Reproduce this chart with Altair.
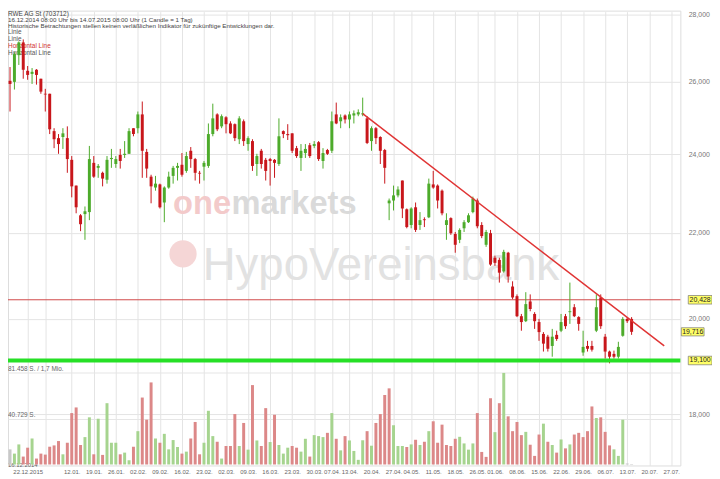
import altair as alt
import pandas as pd

# ---------------- data ----------------
opens = [26.03, 26.00, 26.78, 27.16, 26.32, 26.23, 26.35, 26.09, 25.66, 25.66,
         24.62, 24.43, 24.46, 24.43, 23.85, 23.18, 22.43, 22.46, 22.51, 23.77,
         23.64, 23.51, 23.33, 23.87, 23.74, 23.98, 23.98, 24.01, 24.70, 24.70,
         25.08, 24.06, 23.41, 23.13, 23.21, 22.75, 23.13, 23.43, 23.64, 23.72,
         23.56, 24.09, 23.87, 23.51, 23.67, 23.69, 24.54, 25.08, 24.75, 25.00,
         24.83, 24.81, 24.40, 24.89, 24.27, 24.35, 23.74, 24.09, 23.85, 23.87,
         23.85, 23.74, 24.62, 24.54, 24.56, 24.16, 23.90, 24.03, 24.24, 24.22,
         24.32, 23.82, 24.11, 24.09, 25.08, 24.89, 25.05, 24.94, 25.05, 25.08,
         25.08, 24.97, 24.35, 24.70, 24.46, 24.11, 22.73, 22.80, 22.93, 23.31,
         22.58, 22.19, 22.63, 22.19, 22.33, 22.38, 23.21, 23.18, 23.05, 22.19,
         22.36, 21.97, 21.83, 22.11, 22.26, 22.51, 22.80, 22.19, 21.71, 21.99,
         21.40, 21.35, 21.08, 21.52, 20.73, 20.51, 20.06, 19.95, 20.39, 20.11,
         19.93, 19.67, 19.61, 19.41, 19.65, 19.74, 20.06, 20.15, 20.26, 20.04,
         19.27, 19.41, 19.41, 19.74, 20.48, 19.61, 19.29, 19.24, 19.18, 19.63,
         20.00, 20.00]
highs = [26.43, 26.87, 27.19, 27.25, 26.46, 26.40, 26.37, 26.09, 25.80, 25.66,
         24.70, 24.54, 24.70, 24.75, 23.95, 23.18, 22.46, 22.65, 24.22, 23.95,
         23.74, 23.54, 23.95, 24.14, 23.95, 24.14, 24.35, 24.70, 24.70, 25.16,
         25.44, 24.14, 23.46, 23.43, 23.23, 23.16, 23.54, 23.69, 23.77, 24.03,
         24.06, 24.19, 23.90, 23.56, 23.82, 24.83, 25.38, 25.11, 25.08, 25.03,
         24.89, 24.83, 25.03, 24.94, 24.48, 24.40, 24.01, 24.14, 23.90, 23.90,
         23.87, 24.97, 24.64, 24.81, 24.56, 24.22, 24.27, 24.27, 24.30, 24.35,
         24.35, 24.16, 24.14, 25.16, 25.41, 25.08, 25.08, 25.16, 25.19, 25.22,
         25.55, 25.03, 24.75, 24.73, 24.48, 24.14, 22.85, 23.18, 23.16, 23.31,
         22.60, 22.63, 22.75, 22.51, 22.38, 23.36, 23.56, 23.21, 23.08, 22.48,
         22.38, 22.02, 22.11, 22.31, 22.48, 22.90, 22.85, 22.26, 22.07, 22.07,
         21.45, 21.40, 21.59, 21.54, 20.85, 20.55, 20.11, 20.60, 20.55, 20.15,
         20.00, 19.71, 19.65, 19.78, 19.74, 20.11, 20.11, 20.82, 20.33, 20.06,
         19.74, 19.52, 19.52, 20.55, 20.55, 19.67, 19.31, 19.31, 19.50, 20.04,
         20.04, 20.04]
lows = [25.16, 25.78, 26.49, 26.09, 26.06, 25.94, 25.92, 25.66, 25.16, 24.54,
        24.16, 24.01, 24.14, 23.51, 22.88, 22.48, 22.04, 21.83, 22.31, 23.38,
        23.38, 23.16, 23.23, 23.64, 23.64, 23.62, 23.90, 24.01, 24.48, 24.56,
        23.38, 23.38, 22.73, 23.05, 22.60, 22.26, 23.10, 23.23, 23.31, 23.41,
        23.51, 23.64, 23.31, 23.23, 23.31, 23.64, 24.48, 24.62, 24.70, 24.56,
        24.54, 24.35, 24.27, 24.22, 24.09, 23.56, 23.43, 23.62, 23.31, 23.18,
        23.38, 23.69, 24.43, 24.38, 24.03, 23.90, 23.56, 23.90, 23.90, 24.16,
        23.82, 23.62, 23.98, 24.03, 24.81, 24.70, 24.83, 24.70, 24.83, 25.03,
        25.03, 24.27, 24.09, 24.27, 23.74, 23.23, 22.31, 22.55, 22.88, 22.36,
        22.11, 22.11, 22.02, 22.07, 22.14, 22.36, 23.10, 22.60, 22.43, 21.83,
        21.95, 21.52, 21.75, 22.02, 22.24, 22.48, 22.11, 21.87, 21.66, 21.21,
        21.21, 20.82, 21.05, 20.82, 20.44, 20.04, 19.74, 19.93, 20.17, 19.78,
        19.52, 19.29, 19.29, 19.18, 19.52, 19.71, 19.78, 19.89, 20.04, 19.74,
        19.20, 19.29, 19.29, 19.71, 19.78, 19.14, 19.04, 19.14, 19.14, 19.61,
        19.91, 19.65]
closes = [25.94, 26.81, 27.16, 26.35, 26.20, 26.29, 26.20, 25.72, 25.64, 24.67,
          24.40, 24.27, 24.56, 23.87, 23.16, 22.63, 22.21, 22.53, 23.87, 23.41,
          23.69, 23.36, 23.85, 23.90, 23.87, 23.82, 24.01, 24.62, 24.54, 25.08,
          24.09, 23.62, 23.16, 23.23, 22.63, 23.13, 23.41, 23.64, 23.69, 23.46,
          23.95, 23.87, 23.51, 23.49, 23.77, 24.54, 24.97, 24.67, 25.03, 24.81,
          24.56, 24.43, 24.97, 24.35, 24.43, 23.69, 23.95, 23.74, 23.56, 23.82,
          23.77, 24.48, 24.54, 24.51, 24.09, 23.95, 24.09, 24.14, 23.95, 24.27,
          23.87, 24.03, 24.01, 24.89, 24.83, 25.00, 24.94, 25.08, 25.11, 25.14,
          25.11, 24.30, 24.70, 24.43, 24.09, 23.64, 22.80, 22.93, 23.08, 22.60,
          22.14, 22.60, 22.07, 22.31, 22.31, 23.23, 23.13, 22.80, 22.48, 22.31,
          21.99, 21.71, 22.07, 22.26, 22.43, 22.85, 22.16, 21.92, 22.02, 21.24,
          21.28, 21.05, 21.54, 20.96, 20.48, 20.06, 19.93, 20.33, 20.22, 19.95,
          19.71, 19.46, 19.35, 19.61, 19.56, 19.93, 19.84, 20.17, 20.06, 19.89,
          19.39, 19.35, 19.33, 20.26, 19.84, 19.29, 19.18, 19.18, 19.39, 20.00,
          19.95, 19.716]
volumes = [13460, 9680, 17860, 7040, 14950, 23140, 5280, 9680, 8800, 15830,
           16980, 20850, 9060, 19350, 45740, 50760, 17330, 24370, 41960, 9060,
           40730, 8530, 54540, 19350, 19350, 9060, 10560, 3780, 15830, 29650,
           59560, 39850, 73020, 23140, 19350, 27270, 13460, 21730, 15570, 9680,
           11440, 23140, 37830, 9060, 19350, 47770, 25250, 20230, 5280, 16450,
           16450, 44860, 16450, 36950, 13200, 70640, 21380, 16450, 50140, 19970,
           44250, 17330, 9680, 14950, 16450, 14950, 11440, 22870, 7040, 26130,
           25250, 24370, 28150, 45740, 22870, 12580, 25250, 21380, 12050, 4130,
           21550, 29650, 16710, 36950, 44860, 61840, 67740, 34920, 16450, 16450,
           15570, 17860, 21990, 17330, 20230, 29650, 38440, 19350, 35450, 17330,
           16450, 22870, 24630, 18740, 13200, 18740, 45740, 11170, 6770, 58940,
           28770, 54540, 81458, 42840, 29650, 37830, 26130, 29030, 17590, 7650,
           26650, 36330, 20230, 17330, 10560, 22260, 14340, 17860, 26650, 28150,
           24370, 29650, 51640, 41350, 41960, 29030, 16980, 13460, 7650, 39850,
           880, 440]
# volume bar colour: g = up, r = down, n = neutral
vol_dir = list("n"
               "ggrrgrrrrrrgrrrrggrgrgggrggrgrrrgrggggrgrrrgggrgrrrg"
               "rgrgrrgrgggrrggrgggrgrgrggggrgrrrrgggrgrgrgrrrrrrgggg"
               "rrrrgrgrrrrgrrrgrgrgrgrrrrrgrrrggg"
               "nn")

tick_idx = [4, 8, 14, 19, 24, 29, 34, 39, 44, 49, 54, 59, 64, 69, 73, 77, 82,
            87, 91, 96, 101, 106, 110, 115, 120, 125, 130, 135, 140, 145, 150]
tick_lbl = ["22.12.2015", "", "12.01.", "19.01.", "26.01.", "02.02.", "09.02.",
            "16.02.", "23.02.", "02.03.", "09.03.", "16.03.", "23.03.", "30.03.",
            "07.04.", "13.04.", "20.04.", "27.04.", "04.05.", "11.05.", "18.05.",
            "26.05.", "01.06.", "08.06.", "15.06.", "22.06.", "29.06.", "06.07.",
            "13.07.", "20.07.", "27.07."]
price_ticks = [18, 20, 22, 24, 26, 28]

hline_red = [20.428]
hline_green = [19.100]
trend_i = [80, 148.4]
trend_p = [25.10, 19.41]
box_prices = [20.428, 19.100]
box_labels = ["20,428", "19,100"]
last_price = [19.716]
last_label = ["19,716"]
vol_marks = [81458, 40729]
vol_marks_lbl = ["81.458 S. / 1,7 Mio.", "40.729 S."]

# ---------------- styling ----------------
RED = "#c8161b"
GREEN = "#4dab2b"
VRED = "#dc8888"
VGREEN = "#a6d48f"
VGRAY = "#c8c8c8"
GRID = "#e4e4e4"
FONT = "Liberation Sans"
W, H = 680, 460

df = pd.DataFrame({"i": list(range(len(opens))), "open": opens, "high": highs,
                   "low": lows, "close": closes, "volume": volumes, "vdir": vol_dir})

xscale = alt.Scale(domain=[0.663, 150.94], nice=False, zero=False)
lbl_expr = ("[" + ",".join("'%s'" % s for s in tick_lbl) + "][indexof(["
            + ",".join(str(v) for v in tick_idx) + "], datum.value)]")
xaxis = alt.Axis(values=tick_idx, labelExpr=lbl_expr, grid=True, gridColor=GRID,
                 domain=False, ticks=False, labelFontSize=6, labelColor="#666",
                 labelFont=FONT, labelPadding=3, labelOverlap=False,
                 labelFlush=False, title=None, orient="bottom")
X = alt.X("i:Q", scale=xscale, axis=xaxis)

pscale = alt.Scale(type="log", domain=[17.005, 28.132], range=[H, 0], nice=False, zero=False)
paxis = alt.Axis(values=price_ticks, orient="right", grid=True, gridColor=GRID,
                 domain=False, ticks=False, labelPadding=8, labelFontSize=7,
                 labelColor="#777", labelFont=FONT, labelAlign="left", title=None,
                 labelExpr="replace(format(datum.value, '.3f'), '.', ',')")

vscale = alt.Scale(domain=[0, 403782], range=[459, 0], nice=False, zero=False)
vaxis = alt.Axis(values=vol_marks, orient="left", grid=True, gridColor="#e6e6e6",
                 labels=False, ticks=False, domain=False, title=None)


def P(field):
    return alt.Y(field, scale=pscale, axis=paxis)


candle_color = alt.condition("datum.close >= datum.open", alt.value(GREEN), alt.value(RED))
base = alt.Chart(df)

# ---- annotation texts (drawn below the candles) ----
def txt(s, x, y, size=6.5, color="#444", weight="normal", align="left",
        baseline="middle", font=FONT):
    return alt.Chart(pd.DataFrame({"t": [s]})).mark_text(
        align=align, baseline=baseline, fontSize=size, color=color,
        fontWeight=weight, font=font).encode(x=alt.value(x), y=alt.value(y), text="t:N")

logo = alt.Chart(pd.DataFrame({"t": ["logo"]})).mark_point(
    shape="circle", size=760, filled=True, fill="#f5d6d6", opacity=1, strokeWidth=0
).encode(x=alt.value(177), y=alt.value(246))

annot = alt.layer(
    txt("one", 167, 206, size=33, color="#f3caca", weight="bold", baseline="alphabetic"),
    txt("markets", 226, 206, size=33, color="#dadada", weight="bold", baseline="alphabetic"),
    logo,
    txt("HypoVereinsbank", 197, 272, size=46, color="#e2e2e2", baseline="alphabetic"),
    txt("RWE AG St (703712)", 0, 3, size=6.5),
    txt("16.12.2014 08:00 Uhr bis 14.07.2015 08:00 Uhr (1 Candle = 1 Tag)", 0, 9.5, size=6.3),
    txt("Historische Betrachtungen stellen keinen verläßlichen Indikator für zukünftige Entwicklungen dar.", 0, 15.5, size=6.3),
    txt("Linie", 0, 22, size=6.5, color="#555"),
    txt("Linie", 0, 29, size=6.5, color="#555"),
    txt("Horizontal Line", 0, 36, size=6.5, color="#d03030"),
    txt("Horizontal Line", 0, 43, size=6.5, color="#555"),
    txt("16.12.2014", 0, 460, size=6, color="#666"),
)

# ---- volume ----
vol_color = alt.value(VGRAY, condition=[{"test": "datum.vdir == 'g'", "value": VGREEN},
                                        {"test": "datum.vdir == 'r'", "value": VRED}])
vol = base.mark_bar(size=3).encode(
    x=X, y=alt.Y("volume:Q", scale=vscale, axis=vaxis, stack=None), color=vol_color)
vlab = alt.Chart(pd.DataFrame({"v": vol_marks, "t": vol_marks_lbl})).mark_text(
    align="left", baseline="alphabetic", dy=-1.5, fontSize=6.5, color="#666", font=FONT
).encode(x=alt.value(0), y=alt.Y("v:Q", scale=vscale, axis=vaxis), text="t:N")
vol_layer = alt.layer(vol, vlab)

# ---- price ----
hred = alt.Chart(pd.DataFrame({"price": hline_red})).mark_rule(
    color="#d04848", strokeWidth=1).encode(y=P("price:Q"), x=alt.value(0), x2=alt.value(W))
wick = base.mark_rule(strokeWidth=1).encode(x=X, y=P("low:Q"), y2="high:Q", color=candle_color)
body = base.mark_bar(size=3).encode(x=X, y=P("open:Q"), y2="close:Q", color=candle_color)
hgreen = alt.Chart(pd.DataFrame({"price": hline_green})).mark_rule(
    color="#26e026", strokeWidth=4).encode(y=P("price:Q"), x=alt.value(0), x2=alt.value(W))
trend = alt.Chart(pd.DataFrame({"i": trend_i, "price": trend_p})).mark_line(
    color="#e03434", strokeWidth=1.5).encode(x=X, y=P("price:Q"))

BOX = "M-1,-0.36L1,-0.36L1,0.36L-1,0.36Z"
boxes = alt.Chart(pd.DataFrame({"price": box_prices, "label": box_labels}))
box_r = boxes.mark_point(shape=BOX, size=576, filled=True, fill="#ffff66",
                         stroke="#777", strokeWidth=0.7, opacity=1).encode(
    x=alt.value(700), y=P("price:Q"))
box_t = boxes.mark_text(fontSize=7, color="#222", font=FONT, baseline="middle").encode(
    x=alt.value(700), y=P("price:Q"), text="label:N")
last = alt.Chart(pd.DataFrame({"price": last_price, "label": last_label}))
last_r = last.mark_point(shape=BOX, size=529, filled=True, fill="#ffff66",
                         stroke="#777", strokeWidth=0.7, opacity=1).encode(
    x=alt.value(692.5), y=P("price:Q"))
last_t = last.mark_text(fontSize=7, color="#222", font=FONT, baseline="middle").encode(
    x=alt.value(692.5), y=P("price:Q"), text="label:N")

price_layer = alt.layer(hred, wick, body, hgreen, trend, box_r, box_t, last_r, last_t)

chart = alt.layer(annot, vol_layer, price_layer).resolve_scale(y="independent").properties(
    width=W, height=H,
    padding={"left": 0, "top": 0, "right": 32, "bottom": 11},
    autosize=alt.AutoSizeParams(type="none"),
).configure_view(stroke=None).configure(background="white", font=FONT)

chart.save("out.html", embed_options={"renderer": "svg", "actions": False})
